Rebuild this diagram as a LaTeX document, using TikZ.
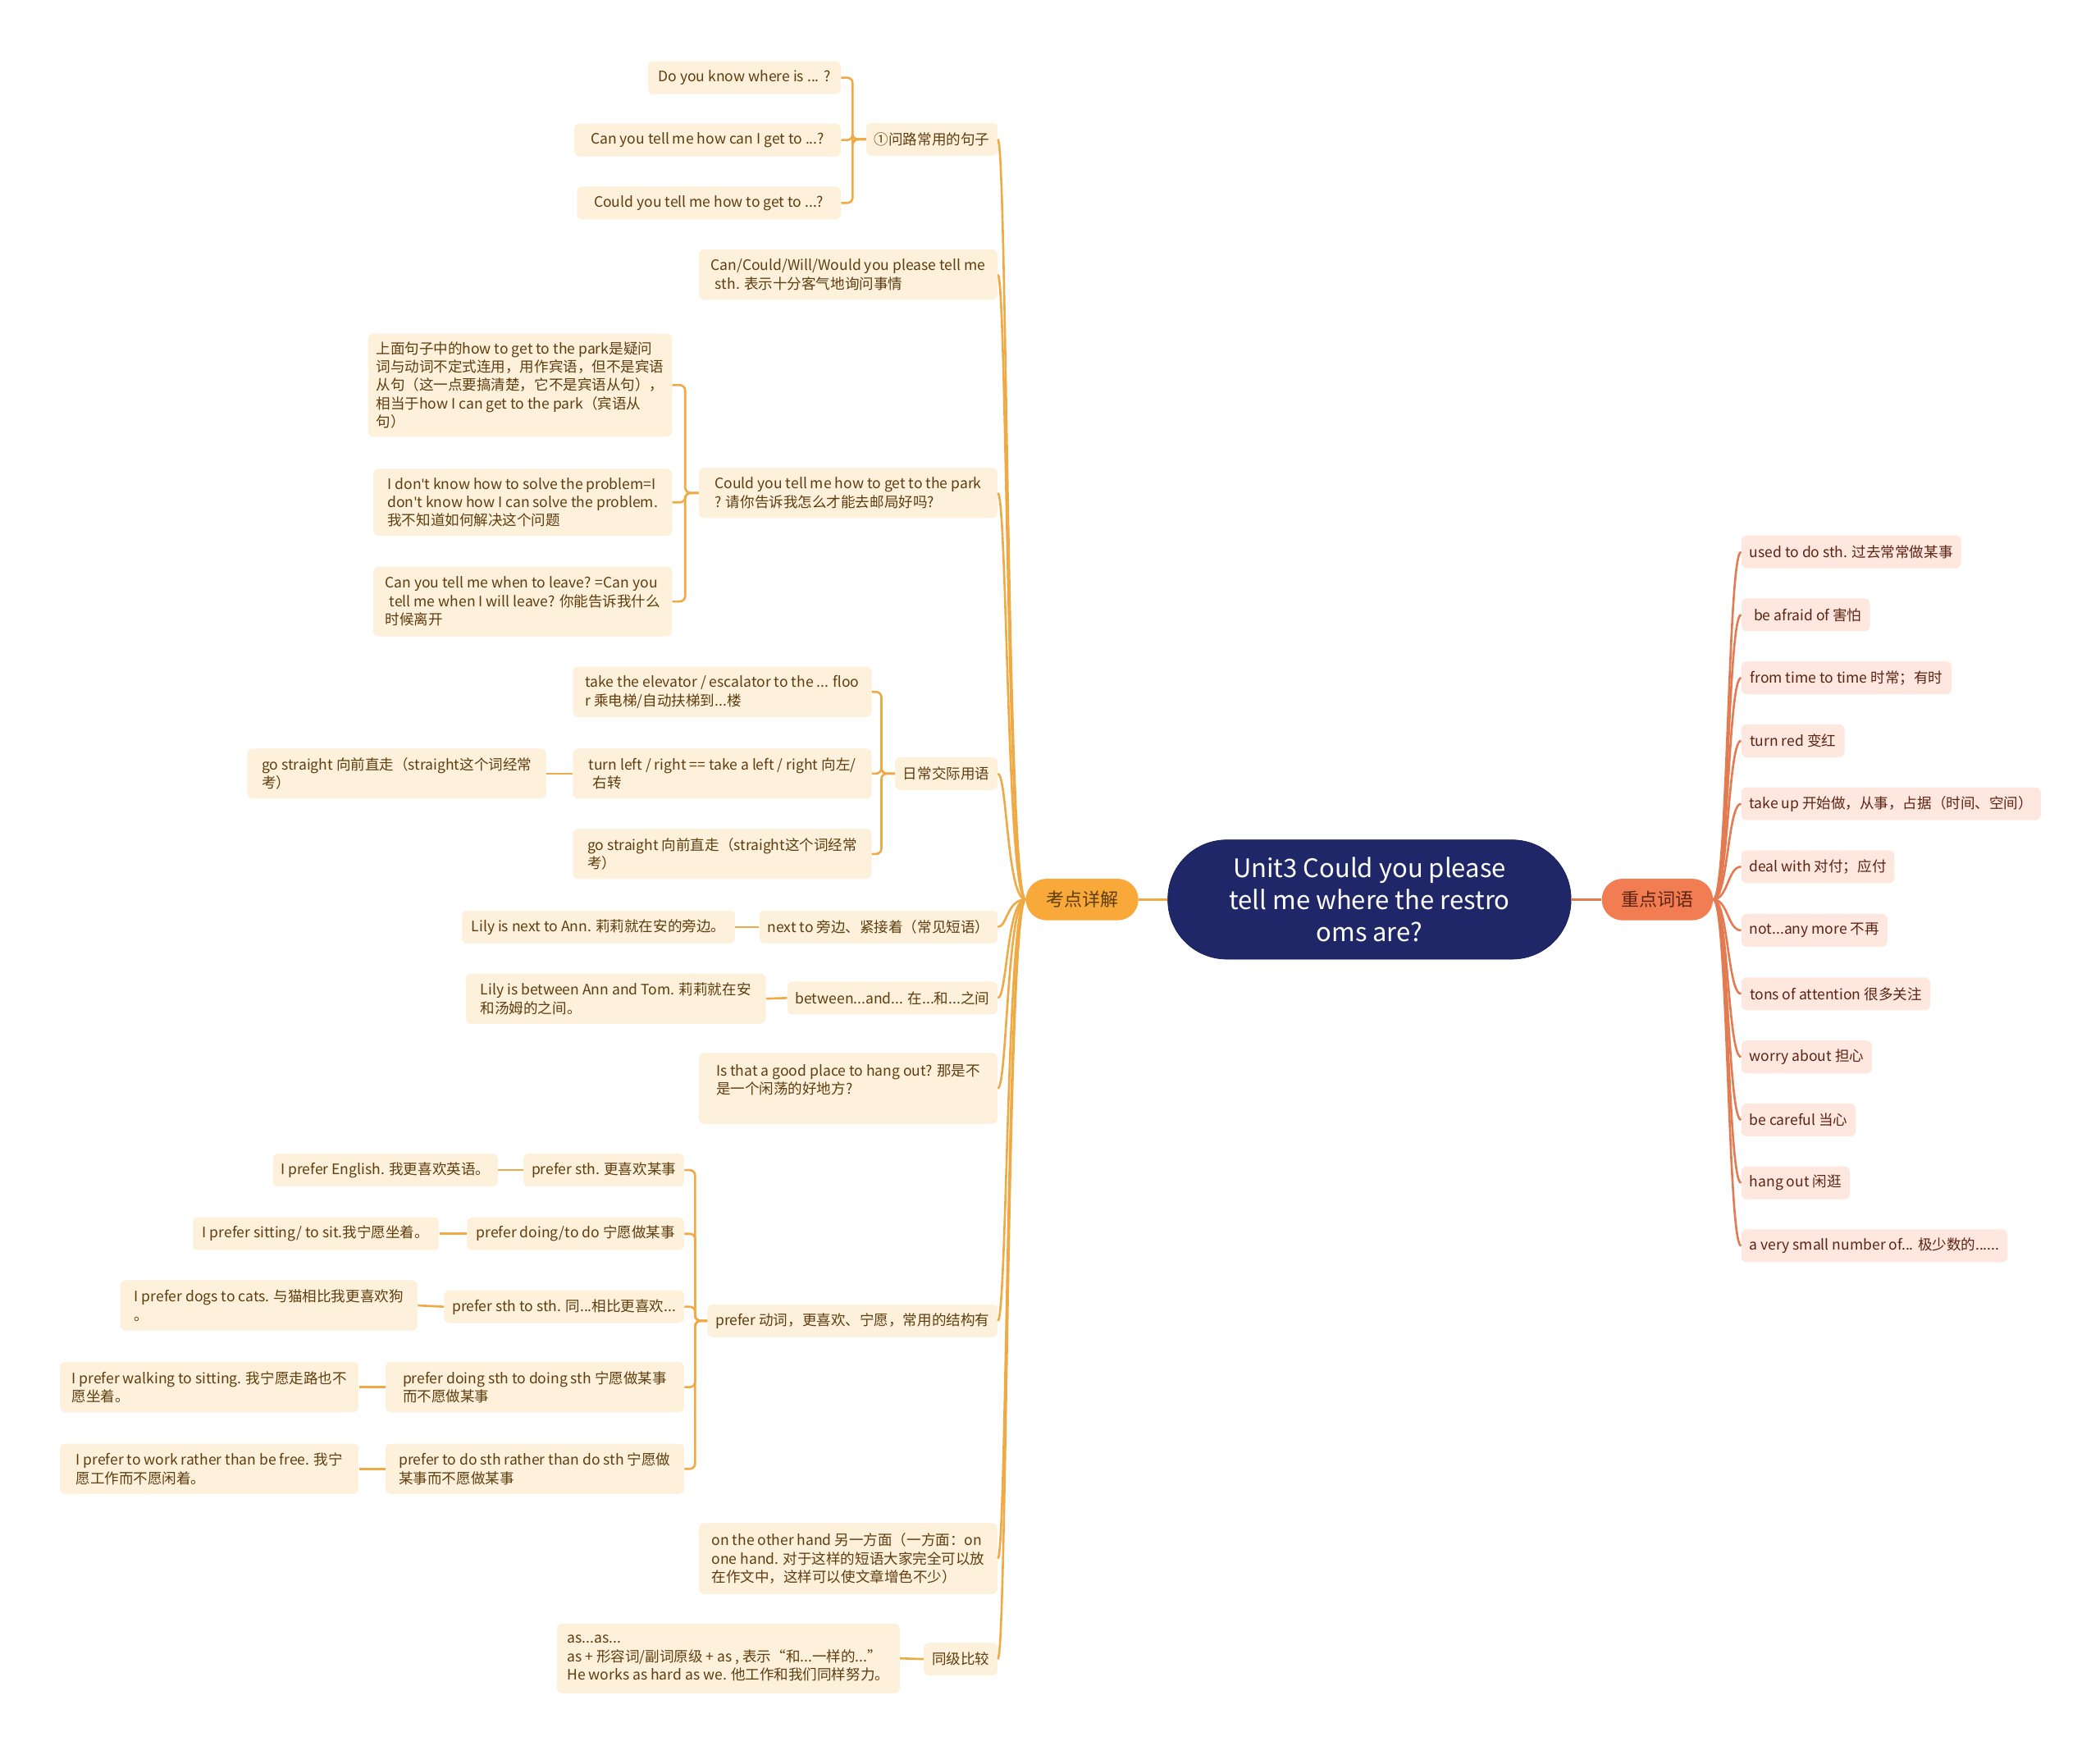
\documentclass[tikz,border=0pt]{standalone}
\usepackage{fontspec}
\setmainfont{Noto Sans CJK SC}
\newfontfamily\latinfont{Noto Sans}
\usepackage{tikz}
\usepackage{xcolor}
\definecolor{rootblue}{HTML}{1F2768}
\definecolor{rootedge}{HTML}{161C4E}
\definecolor{kdfill}{HTML}{F8A93A}
\definecolor{kdline}{HTML}{EFAA45}
\definecolor{kdleaf}{HTML}{FEF1DC}
\definecolor{kdtext}{HTML}{5E3D0E}
\definecolor{zdfill}{HTML}{F27D52}
\definecolor{zdline}{HTML}{E27B52}
\definecolor{zdleaf}{HTML}{FDE7DF}
\definecolor{zdtext}{HTML}{5C2413}
\newcommand{\apo}{{\latinfont'}}

\begin{document}
\begin{tikzpicture}[x=1pt,y=-1pt,
  leaf/.style={fill=kdleaf, text=kdtext, rounded corners=4pt, inner xsep=6pt, inner ysep=4pt,
    align=left, font=\fontsize{10.75}{13.75}\selectfont, minimum height=24.5pt},
  wleaf/.style={leaf, fill=zdleaf, text=zdtext},
  main/.style={kdline, line width=1.6pt},
  sub/.style={kdline, line width=1.6pt, rounded corners=4pt},
  wmain/.style={zdline, line width=1.6pt}]
  \fill[white] (0,0) rectangle (1568,1310);
  \useasboundingbox (0,0) rectangle (1568,1310);

  % 中心主题
  \node[fill=rootblue, draw=rootedge, text=white, rounded corners=44pt, minimum width=301pt,
    minimum height=89pt, align=center, font=\fontsize{19}{24}\selectfont] (root) at (1022.5,671.5)
    {Unit3 Could you please\\tell me where the restro\\oms are?};
  \node[fill=kdfill, text=kdtext, rounded corners=15.5pt, minimum width=84pt, minimum height=31pt,
    font=\fontsize{13.5}{16}\selectfont] (kd) at (808,671.5) {考点详解};
  \node[fill=zdfill, text=zdtext, rounded corners=15.5pt, minimum width=83pt, minimum height=31pt,
    font=\fontsize{13.5}{16}\selectfont] (zd) at (1237.5,671.5) {重点词语};
  \draw[main] (root.west) -- (kd.east);
  \draw[wmain] (root.east) -- (zd.west);

  % 考点详解
  \node[leaf, anchor=east, minimum width=98pt] (wenlu) at (745,104) {①问路常用的句子};
  \node[leaf, anchor=east, minimum width=223pt, minimum height=37.5pt] (keqi) at (745,205)
    {Can/Could/Will/Would you please tell me\\\hspace{0.3em}sth. 表示十分客气地询问事情};
  \node[leaf, anchor=east, minimum width=223pt, minimum height=37.5pt] (park) at (745,368)
    {Could you tell me how to get to the park\\? 请你告诉我怎么才能去邮局好吗?};
  \node[leaf, anchor=east, minimum width=74pt] (richang) at (745,577.5) {日常交际用语};
  \node[leaf, anchor=east, minimum width=176pt] (nextto) at (745,692) {next to 旁边、紧接着（常见短语）};
  \node[leaf, anchor=east, minimum width=153pt] (between) at (745,745) {between...and... 在...和...之间};
  \node[leaf, anchor=east, minimum width=223pt, minimum height=53pt] (hangout) at (745,812.5)
    {Is that a good place to hang out? 那是不\\是一个闲荡的好地方?\\\mbox{}};
  \node[leaf, anchor=east, minimum width=215pt] (prefer) at (745,986) {prefer 动词，更喜欢、宁愿，常用的结构有};
  \node[leaf, anchor=east, minimum width=223pt, minimum height=53pt] (otherhand) at (745,1163.5)
    {on the other hand 另一方面（一方面：on\\one hand. 对于这样的短语大家完全可以放\\在作文中，这样可以使文章增色不少）};
  \node[leaf, anchor=east, minimum width=53pt] (tongji) at (745,1238.5) {同级比较};

  % ①问路常用的句子
  \node[leaf, anchor=east, minimum width=144pt] (where) at (628,58) {Do you know where is ... ?};
  \node[leaf, anchor=east, minimum width=199pt] (howcan) at (628,104.5) {Can you tell me how can I get to ...?};
  \node[leaf, anchor=east, minimum width=197pt] (howto) at (628,151.5) {Could you tell me how to get to ...?};

  % how to get to the park
  \node[leaf, anchor=east, minimum width=223pt, minimum height=77pt] (binyu) at (502,287.5)
    {上面句子中的how to get to the park是疑问\\词与动词不定式连用，用作宾语，但不是宾语\\从句（这一点要搞清楚，它不是宾语从句），\\相当于how I can get to the park（宾语从\\句）};
  \node[leaf, anchor=east, minimum width=223pt, minimum height=50pt] (solve) at (502,375)
    {I don\apo t know how to solve the problem=I\\don\apo t know how I can solve the problem.\\我不知道如何解决这个问题};
  \node[leaf, anchor=east, minimum width=223pt, minimum height=52pt] (leave) at (502,449)
    {Can you tell me when to leave? =Can you\\\hspace{0.3em}tell me when I will leave? 你能告诉我什么\\时候离开};

  % 日常交际用语
  \node[leaf, anchor=east, minimum width=223pt, minimum height=37.5pt] (elevator) at (651,516.5)
    {take the elevator / escalator to the ... floo\\r 乘电梯/自动扶梯到...楼};
  \node[leaf, anchor=east, minimum width=223pt, minimum height=37.5pt] (turn) at (651,577.5)
    {turn left / right == take a left / right 向左/\\\hspace{0.3em}右转};
  \node[leaf, anchor=east, minimum width=223pt, minimum height=37.5pt] (straight) at (651,637.5)
    {go straight 向前直走（straight这个词经常\\考）};
  \node[leaf, anchor=east, minimum width=223pt, minimum height=37.5pt] (straightb) at (408,577.5)
    {go straight 向前直走（straight这个词经常\\考）};

  % next to / between
  \node[leaf, anchor=east, minimum width=204pt] (ann) at (549,692) {Lily is next to Ann. 莉莉就在安的旁边。};
  \node[leaf, anchor=east, minimum width=224pt, minimum height=37.5pt] (anntom) at (572,745.5)
    {Lily is between Ann and Tom. 莉莉就在安\\和汤姆的之间。};

  % prefer
  \node[leaf, anchor=east, minimum width=118pt] (psth) at (511,873.5) {prefer sth. 更喜欢某事};
  \node[leaf, anchor=east, minimum width=162pt] (pdoing) at (511,921) {prefer doing/to do 宁愿做某事};
  \node[leaf, anchor=east, minimum width=179pt] (psts) at (511,975.5) {prefer sth to sth. 同...相比更喜欢...};
  \node[leaf, anchor=east, minimum width=223pt, minimum height=37.5pt] (pdd) at (511,1035.5)
    {prefer doing sth to doing sth 宁愿做某事\\而不愿做某事};
  \node[leaf, anchor=east, minimum width=223pt, minimum height=37.5pt] (prather) at (511,1096.5)
    {prefer to do sth rather than do sth 宁愿做\\某事而不愿做某事};
  \node[leaf, anchor=east, minimum width=166pt] (english) at (372,873.5) {I prefer English. 我更喜欢英语。};
  \node[leaf, anchor=east, minimum width=184pt] (sitting) at (328,921) {I prefer sitting/ to sit.我宁愿坐着。};
  \node[leaf, anchor=east, minimum width=222pt, minimum height=37.5pt] (dogs) at (312,974.5)
    {I prefer dogs to cats. 与猫相比我更喜欢狗\\。};
  \node[leaf, anchor=east, minimum width=223pt, minimum height=37.5pt] (walking) at (268,1035.5)
    {I prefer walking to sitting. 我宁愿走路也不\\愿坐着。};
  \node[leaf, anchor=east, minimum width=223pt, minimum height=37.5pt] (work) at (268,1096.5)
    {I prefer to work rather than be free. 我宁\\愿工作而不愿闲着。};

  % 同级比较
  \node[leaf, anchor=east, minimum width=256pt, minimum height=52pt] (asas) at (672,1238)
    {as...as...\\as + 形容词/副词原级 + as , 表示“和...一样的...”\\He works as hard as we. 他工作和我们同样努力。};

  \foreach \n in {wenlu,keqi,park,richang,nextto,between,hangout,prefer,otherhand,tongji}
    \draw[main] (kd.west) .. controls +(-14,0) and +(7,0) .. (\n.east);
  \foreach \c in {where,howcan,howto}
    \draw[sub] (wenlu.west) -- ++(-10,0) |- (\c.east);
  \foreach \c in {binyu,solve,leave}
    \draw[sub] (park.west) -- ++(-10,0) |- (\c.east);
  \foreach \c in {elevator,turn,straight}
    \draw[sub] (richang.west) -- ++(-10,0) |- (\c.east);
  \foreach \c in {psth,pdoing,psts,pdd,prather}
    \draw[sub] (prefer.west) -- ++(-9,0) |- (\c.east);
  \draw[sub] (turn.west) -- (straightb.east);
  \draw[sub] (nextto.west) -- (ann.east);
  \draw[sub] (between.west) -- (anntom.east);
  \draw[sub] (psth.west) -- (english.east);
  \draw[sub] (pdoing.west) -- (sitting.east);
  \draw[sub] (psts.west) -- (dogs.east);
  \draw[sub] (pdd.west) -- (walking.east);
  \draw[sub] (prather.west) -- (work.east);
  \draw[sub] (tongji.west) -- (asas.east);

  % 重点词语
  \foreach \n/\y/\w/\t in {
      used/412/164/{used to do sth. 过去常常做某事},
      afraid/459/96/{\hspace{0.3em}be afraid of 害怕},
      time/506/157/{from time to time 时常；有时},
      red/553/77/{turn red 变红},
      takeup/600/221/{take up 开始做，从事，占据（时间、空间）},
      deal/647/113/{deal with 对付；应付},
      anymore/694.5/109/{not...any more 不再},
      tons/742/141/{tons of attention 很多关注},
      worry/789/96/{worry about 担心},
      careful/836/85/{be careful 当心},
      hang/883/81/{hang out 闲逛},
      few/930/198/{a very small number of... 极少数的......}}{
    \node[wleaf, anchor=west, minimum width=\w pt] (\n) at (1300,\y) {\t};
    \draw[wmain] (zd.east) .. controls +(11,0) and +(-10,0) .. (\n.west);
  }
\end{tikzpicture}
\end{document}
